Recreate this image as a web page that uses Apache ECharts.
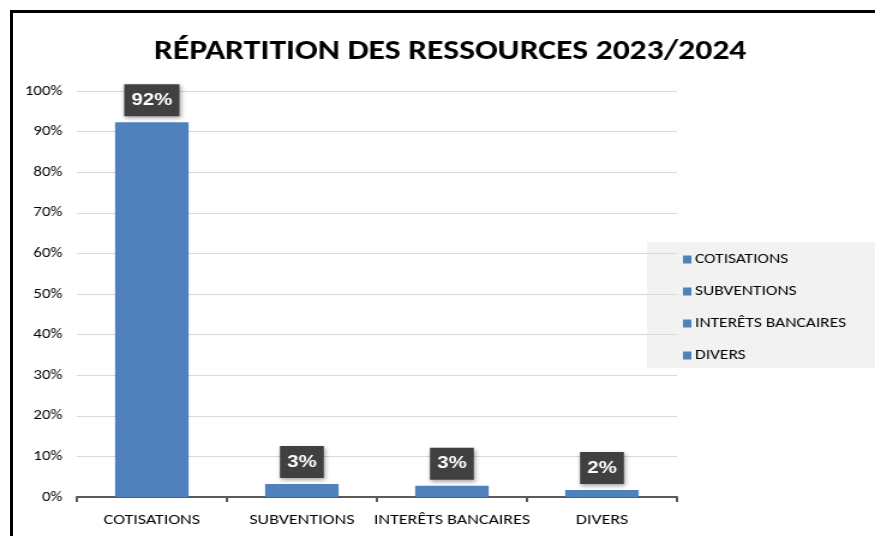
<!DOCTYPE html>
<html>
<head>
<meta charset="utf-8">
<script src="https://cdn.jsdelivr.net/npm/echarts@6/dist/echarts.min.js"></script>
<style>
    * { margin: 0; padding: 0; }
    body { width: 875px; height: 536px; background: #fff; position: relative; overflow: hidden; }
    #frame { position: absolute; left: 10px; top: 10px; width: 870px; height: 530px;
             border-top: 3px solid #000; border-left: 3px solid #000; }
    /* l'image d'origine est étirée horizontalement : on fait pareil */
    #chart { position: absolute; left: 0; top: 0; width: 729px; height: 536px;
             transform: scaleX(1.2003); transform-origin: 0 0; }
</style>
</head>
<body>
<div id="frame"></div>
<div id="chart"></div>
<script>
    // données
    var categories = ['COTISATIONS', 'SUBVENTIONS', 'INTERÊTS BANCAIRES', 'DIVERS'];
    var values = [92.3, 3.2, 2.8, 1.7];
    var yTicks = [0, 10, 20, 30, 40, 50, 60, 70, 80, 90, 100];

    var font = "Carlito, Calibri, 'Liberation Sans Narrow', 'Noto Sans', sans-serif";
    var blue = '#4f81bd';

    // une série par catégorie (empilées) pour avoir la légende par catégorie
    var series = categories.map(function (name, i) {
        return {
            name: name,
            type: 'bar',
            stack: 'total',
            barWidth: '49%',
            itemStyle: { color: blue },
            data: categories.map(function (c, j) { return j === i ? values[i] : '-'; }),
            label: {
                show: true,
                position: 'top',
                distance: 6,
                formatter: function (p) { return Math.round(p.value) + '%'; },
                backgroundColor: '#404040',
                color: '#fff',
                fontFamily: 'Arial, "Liberation Sans", sans-serif',
                fontWeight: 'bold',
                fontSize: 17,
                lineHeight: 18,
                padding: [7, 6],
                shadowColor: 'rgba(0,0,0,0.35)',
                shadowBlur: 4,
                shadowOffsetX: 1,
                shadowOffsetY: 2
            }
        };
    });

    var chart = echarts.init(document.getElementById('chart'));
    chart.setOption({
        animation: false,
        title: {
            text: 'RÉPARTITION DES RESSOURCES 2023/2024',
            left: 370,
            textAlign: 'center',
            top: 33,
            textStyle: { fontFamily: font, fontWeight: 'bold', fontSize: 28, color: '#000' }
        },
        graphic: [{
            type: 'rect',
            shape: { x: 539, y: 242, width: 190, height: 126 },
            style: { fill: '#f2f2f2' },
            z: 0
        }],
        legend: {
            orient: 'vertical',
            left: 564,
            top: 247,
            itemWidth: 7,
            itemHeight: 8,
            itemGap: 17,
            icon: 'rect',
            z: 5,
            textStyle: { fontFamily: font, fontSize: 14.5, color: '#000', padding: [0, 0, 0, -2] },
            data: categories
        },
        grid: { left: 64, right: 165, top: 91, bottom: 39 },
        xAxis: {
            type: 'category',
            data: categories,
            axisLine: { lineStyle: { color: '#595959', width: 2 } },
            axisTick: { show: true, alignWithLabel: false, length: 5, lineStyle: { color: '#595959', width: 2 } },
            axisLabel: { margin: 16, fontFamily: font, fontSize: 15, color: '#000', interval: 0 }
        },
        yAxis: {
            type: 'value',
            min: yTicks[0],
            max: yTicks[yTicks.length - 1],
            interval: yTicks[1] - yTicks[0],
            axisLine: { show: false },
            axisTick: { show: false },
            axisLabel: { margin: 12, fontFamily: font, fontSize: 14, color: '#000', formatter: '{value}%' },
            splitLine: { lineStyle: { color: '#d9d9d9', width: 1 } }
        },
        series: series
    });
</script>
</body>
</html>
